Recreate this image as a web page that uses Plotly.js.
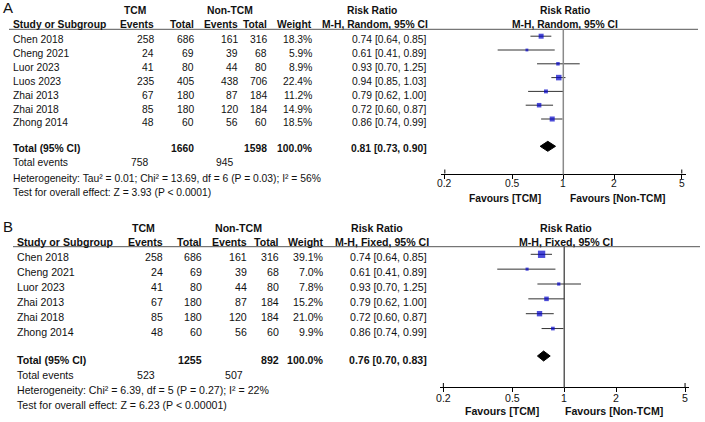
<!DOCTYPE html>
<html>
<head>
<meta charset="utf-8">
<script src="https://cdn.plot.ly/plotly-3.0.1.min.js"></script>
<style>html,body{margin:0;padding:0;background:#fff;}#chart{width:705px;height:422px;}</style>
</head>
<body>
<div id="chart"></div>
<script>
// ---------- Data: Panel A (random effects) ----------
const studiesA = ['Chen 2018','Cheng 2021','Luor 2023','Luos 2023','Zhai 2013','Zhai 2018','Zhong 2014'];
const tcmEventsA = [258,24,41,235,67,85,48];
const tcmTotalA  = [686,69,80,405,180,180,60];
const ctrlEventsA = [161,39,44,438,87,120,56];
const ctrlTotalA  = [316,68,80,706,184,184,60];
const weightA = [18.3,5.9,8.9,22.4,11.2,14.9,18.5];
const rrA = [0.74,0.61,0.93,0.94,0.79,0.72,0.86];
const loA = [0.64,0.41,0.70,0.85,0.62,0.60,0.74];
const hiA = [0.85,0.89,1.25,1.03,1.00,0.87,0.99];
const totalsA = [1660,1598];          // TCM total, Non-TCM total
const totalEventsA = [758,945];
const pooledA = [0.81,0.73,0.90];     // RR, lower, upper
const statsA = ['Heterogeneity: Tau² = 0.01; Chi² = 13.69, df = 6 (P = 0.03); I² = 56%',
                'Test for overall effect: Z = 3.93 (P < 0.0001)'];

// ---------- Data: Panel B (fixed effects) ----------
const studiesB = ['Chen 2018','Cheng 2021','Luor 2023','Zhai 2013','Zhai 2018','Zhong 2014'];
const tcmEventsB = [258,24,41,67,85,48];
const tcmTotalB  = [686,69,80,180,180,60];
const ctrlEventsB = [161,39,44,87,120,56];
const ctrlTotalB  = [316,68,80,184,184,60];
const weightB = [39.1,7.0,7.8,15.2,21.0,9.9];
const rrB = [0.74,0.61,0.93,0.79,0.72,0.86];
const loB = [0.64,0.41,0.70,0.62,0.60,0.74];
const hiB = [0.85,0.89,1.25,1.00,0.87,0.99];
const totalsB = [1255,892];
const totalEventsB = [523,507];
const pooledB = [0.76,0.70,0.83];
const statsB = ['Heterogeneity: Chi² = 6.39, df = 5 (P = 0.27); I² = 22%',
                'Test for overall effect: Z = 6.23 (P < 0.00001)'];

const tickVals = [0.2,0.5,1,2,5];
const tickText = ['0.2','0.5','1','2','5'];

// ---------- Layout helpers ----------
const W = 705, H = 422;
const FONT = '"Liberation Sans", Arial, Helvetica, sans-serif';
const TXT = '#111';
const px = x => x / W;
const py = y => 1 - y / H;

const annotations = [], shapes = [], traces = [];
const layoutAxes = {};

function txt(x, y, text, anchor, size, bold, xref) {
  annotations.push({
    xref: xref || 'paper', yref: 'paper', x: xref ? x : px(x), y: py(y),
    text: bold ? '<b>' + text + '</b>' : text,
    showarrow: false, xanchor: anchor, yanchor: 'middle',
    borderpad: 0, font: { family: FONT, size: size, color: TXT }
  });
}

function panel(cfg, d) {
  const fs = cfg.fs, c = cfg.cols, h = cfg.hdr;
  // panel letter
  txt(cfg.labelPos[0], cfg.labelPos[1], cfg.label, 'left', 15, false);
  // headers
  txt(h.tcm, cfg.hdr1, 'TCM', 'center', fs, true);
  txt(h.non, cfg.hdr1, 'Non-TCM', 'center', fs, true);
  txt(h.rr1, cfg.hdr1, 'Risk Ratio', 'center', fs, true);
  txt(h.frr, cfg.hdr1, 'Risk Ratio', 'center', fs, true);
  txt(c.name, cfg.hdr2, 'Study or Subgroup', 'left', fs, true);
  txt(c.te, cfg.hdr2, 'Events', 'right', fs, true);
  txt(c.tt, cfg.hdr2, 'Total', 'right', fs, true);
  txt(c.ce, cfg.hdr2, 'Events', 'right', fs, true);
  txt(c.ct, cfg.hdr2, 'Total', 'right', fs, true);
  txt(c.w, cfg.hdr2, 'Weight', 'right', fs, true);
  txt(h.rr2right, cfg.hdr2, cfg.method, 'right', fs, true);
  txt(h.frr, cfg.hdr2, cfg.method, 'center', fs, true);
  shapes.push({type:'line', xref:'paper', yref:'paper',
    x0: px(cfg.hlineX[0]), x1: px(cfg.hlineX[1]), y0: py(cfg.hline), y1: py(cfg.hline),
    line:{color:'#555', width:1}});

  // study rows
  const ciX = [], ciY = [], mY = [], mS = [];
  d.studies.forEach((s, i) => {
    const y = cfg.row0 + i * cfg.step;
    txt(c.name, y, s, 'left', fs, false);
    txt(c.te, y, String(d.te[i]), 'right', fs, false);
    txt(c.tt, y, String(d.tt[i]), 'right', fs, false);
    txt(c.ce, y, String(d.ce[i]), 'right', fs, false);
    txt(c.ct, y, String(d.ct[i]), 'right', fs, false);
    txt(c.w, y, d.w[i].toFixed(1) + '%', 'right', fs, false);
    txt(c.ci, y, d.rr[i].toFixed(2) + ' [' + d.lo[i].toFixed(2) + ', ' + d.hi[i].toFixed(2) + ']', 'right', fs, false);
    const ym = y + cfg.markOff;
    ciX.push(d.lo[i], d.hi[i], null);
    ciY.push(ym, ym, null);
    mY.push(ym);
    mS.push(1.17 * Math.sqrt(d.w[i]));
  });

  // totals
  txt(c.name, cfg.totalY, 'Total (95% CI)', 'left', fs, true);
  txt(c.tt, cfg.totalY, String(d.totals[0]), 'right', fs, true);
  txt(c.ct, cfg.totalY, String(d.totals[1]), 'right', fs, true);
  txt(c.w, cfg.totalY, '100.0%', 'right', fs, true);
  txt(c.ci, cfg.totalY, d.pooled[0].toFixed(2) + ' [' + d.pooled[1].toFixed(2) + ', ' + d.pooled[2].toFixed(2) + ']', 'right', fs, true);
  txt(c.name, cfg.eventsY, 'Total events', 'left', fs, false);
  txt(cfg.evX[0], cfg.eventsY, String(d.events[0]), 'center', fs, false);
  txt(cfg.evX[1], cfg.eventsY, String(d.events[1]), 'center', fs, false);
  txt(c.name, cfg.hetY, d.stats[0], 'left', fs, false);
  txt(c.name, cfg.testY, d.stats[1], 'left', fs, false);

  // forest axis (log scale)
  const r0 = (cfg.ax0 - cfg.xc) / cfg.s, r1 = (cfg.ax1 - cfg.xc) / cfg.s;
  layoutAxes[cfg.axKey] = {
    type: 'log', domain: [px(cfg.ax0), px(cfg.ax1)], range: [r0, r1],
    anchor: 'free', position: py(cfg.axisY),
    showline: true, linecolor: '#000', linewidth: 1,
    ticks: 'outside', ticklen: 4, tickwidth: 1, tickcolor: '#000',
    tickvals: tickVals, showticklabels: false,
    showgrid: false, zeroline: false, fixedrange: true
  };
  // tick labels placed on the log axis scale (annotation x on log axes is log10(value))
  tickVals.forEach((v, k) => txt(Math.log10(v), cfg.axisY + cfg.tickLabOff, tickText[k], 'center', fs, false, cfg.ax));
  // up-ticks at both ends of the axis
  [tickVals[0], tickVals[tickVals.length - 1]].forEach(v => {
    shapes.push({type:'line', xref: cfg.ax, yref:'paper', x0: v, x1: v,
      y0: py(cfg.axisY), y1: py(cfg.axisY - 4), line:{color:'#000', width:1}});
  });
  // line of no effect
  shapes.push({type:'line', xref: cfg.ax, yref:'paper', x0: 1, x1: 1,
    y0: py(cfg.hline), y1: py(cfg.axisY + 1), line:{color: cfg.vlineColor, width: cfg.vlineWidth}});

  // CI lines
  traces.push({type:'scatter', mode:'lines', xaxis: cfg.ax, yaxis:'y',
    x: ciX, y: ciY, line:{color:'#333', width:1}, hoverinfo:'skip', showlegend:false});
  // weight squares
  traces.push({type:'scatter', mode:'markers', xaxis: cfg.ax, yaxis:'y',
    x: d.rr, y: mY, marker:{symbol:'square', size: mS, color:'#0000c8', line:{width:0}},
    hoverinfo:'skip', showlegend:false});
  // pooled diamond
  const dy = cfg.diamondY, hh = 5;
  traces.push({type:'scatter', mode:'lines', xaxis: cfg.ax, yaxis:'y', fill:'toself',
    x: [d.pooled[1], d.pooled[0], d.pooled[2], d.pooled[0], d.pooled[1]],
    y: [dy, dy - hh, dy, dy + hh, dy],
    fillcolor:'#000', line:{color:'#000', width:1}, hoverinfo:'skip', showlegend:false});

  // favours labels
  txt(cfg.fav[0], cfg.favY, 'Favours [TCM]', 'center', fs, true);
  txt(cfg.fav[1], cfg.favY, 'Favours [Non-TCM]', 'center', fs, true);
}

panel({
  ax:'x2', axKey:'xaxis2', fs:10.3, label:'A', labelPos:[2,7.5], method:'M-H, Random, 95% CI',
  hdr1:10, hdr2:24.5, hline:29.3, hlineX:[9,698],
  row0:40, step:13.8, markOff:-3.8,
  totalY:148.5, diamondY:146.3, eventsY:163, hetY:178, testY:192,
  cols:{name:12, te:155, tt:195, ce:238.5, ct:267.5, w:313, ci:428},
  evX:[139,224.5],
  hdr:{tcm:134.7, non:230, rr1:372, rr2right:428.5, frr:564.5},
  axisY:173.5, tickLabOff:9.5, xc:563.3, s:169.5, ax0:441, ax1:686, favY:199, fav:[505,617.5],
  vlineColor:'#8a8a8a', vlineWidth:1.5
}, {studies:studiesA, te:tcmEventsA, tt:tcmTotalA, ce:ctrlEventsA, ct:ctrlTotalA, w:weightA,
    rr:rrA, lo:loA, hi:hiA, totals:totalsA, events:totalEventsA, pooled:pooledA, stats:statsA});

panel({
  ax:'x3', axKey:'xaxis3', fs:10.6, label:'B', labelPos:[2,226.5], method:'M-H, Fixed, 95% CI',
  hdr1:228, hdr2:241.5, hline:246.7, hlineX:[13,700],
  row0:257.3, step:14.85, markOff:-3,
  totalY:359.5, diamondY:356, eventsY:375, hetY:390, testY:404.5,
  cols:{name:15.5, te:163.5, tt:203.5, ce:248, ct:280, w:325, ci:427.5},
  evX:[145.5,234],
  hdr:{tcm:143.3, non:238.3, rr1:376.7, rr2right:429.5, frr:566},
  axisY:387, tickLabOff:11, xc:564.2, s:172.9, ax0:439.5, ax1:689, favY:411, fav:[502,614],
  vlineColor:'#333', vlineWidth:1.2
}, {studies:studiesB, te:tcmEventsB, tt:tcmTotalB, ce:ctrlEventsB, ct:ctrlTotalB, w:weightB,
    rr:rrB, lo:loB, hi:hiB, totals:totalsB, events:totalEventsB, pooled:pooledB, stats:statsB});

const layout = Object.assign({
  width: W, height: H, margin:{l:0, r:0, t:0, b:0},
  paper_bgcolor:'#fff', plot_bgcolor:'rgba(0,0,0,0)', showlegend:false,
  yaxis:{range:[H, 0], domain:[0,1], visible:false, fixedrange:true, anchor:'free', position:0},
  annotations: annotations, shapes: shapes
}, layoutAxes);

Plotly.newPlot('chart', traces, layout, {staticPlot:true, displayModeBar:false});
</script>
</body>
</html>
